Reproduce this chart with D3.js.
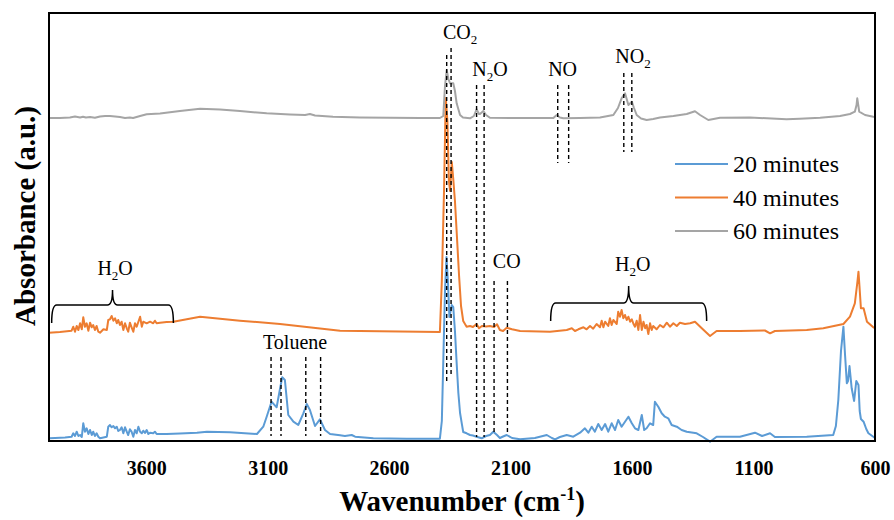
<!DOCTYPE html>
<html><head><meta charset="utf-8">
<script src="https://cdn.jsdelivr.net/npm/d3@7"></script>
<style>body{margin:0;background:#fff}svg{display:block}text{font-family:"Liberation Serif","Times New Roman",serif}</style>
</head><body><svg id="c" width="894" height="520"></svg>
<script>
// ---- data: [wavenumber (cm-1), absorbance (a.u., offset stacked)] ----
const series20 = [[4000,2.7],[3975,3],[3934,3.5],[3907,4.3],[3900,7.7],[3893,5],[3886,9.3],[3879,5],[3872,6],[3865,4],[3859,17.7],[3852,9.3],[3845,12.7],[3838,7],[3831,11],[3824,6],[3818,9.3],[3811,5],[3804,7.7],[3797,4.3],[3790,2.7],[3776,3.5],[3762,4.3],[3756,14.3],[3749,16],[3742,13.7],[3735,15],[3728,12.7],[3721,14.3],[3715,10],[3708,11],[3701,13.7],[3694,7.7],[3687,13.7],[3680,9.3],[3674,6],[3667,11.7],[3660,9.3],[3653,4.3],[3646,11],[3639,7.7],[3632,14.3],[3625,9.3],[3618,7.7],[3612,10.3],[3605,8],[3598,11],[3591,7],[3584,8.3],[3571,7.7],[3564,9.3],[3557,7],[3543,7],[3516,7],[3461,7.5],[3391,8.3],[3350,9.3],[3255,8.7],[3144,7],[3118,14.3],[3104,24.3],[3084,39.3],[3063,33.7],[3050,51],[3040,63.7],[3029,61],[3015,26],[2994,19.3],[2974,16],[2953,27.7],[2939,37],[2926,31],[2905,15],[2885,21.7],[2864,11],[2843,7],[2802,5.7],[2782,5],[2754,6],[2740,4.3],[2665,2.7],[2528,2.3],[2391,2.3],[2383,20],[2376,90],[2370,150],[2364,184],[2358,160],[2352,124],[2347,130],[2342,136],[2336,134],[2329,110],[2322,78],[2315,48],[2308,28],[2301,17.7],[2295,9],[2281,7.7],[2267,6],[2255,5.5],[2240,4.3],[2219,2.7],[2201,5],[2185,6],[2171,9.3],[2156,6],[2144,3],[2131,4.5],[2116,6],[2094,3],[2061,1.7],[2000,3],[1951,6],[1930,3],[1917,1.7],[1897,4],[1869,6],[1842,4.3],[1814,8.3],[1794,12.7],[1780,8.3],[1766,14.3],[1753,9.3],[1739,17],[1725,11],[1711,17],[1698,9.3],[1684,17.7],[1670,11],[1657,21],[1643,14.3],[1629,19.3],[1615,24.3],[1601,17.7],[1588,12.7],[1574,11],[1560,26],[1550,11],[1540,12.7],[1526,17.7],[1513,16],[1506,39.3],[1492,34.3],[1478,27.7],[1465,24.3],[1451,22.7],[1437,16],[1416,14.3],[1396,11],[1375,9.3],[1334,7.7],[1308,4],[1279,-0.7],[1252,4.3],[1156,4.3],[1094,8.3],[1065,5],[1032,7.7],[1012,4],[881,4.3],[772,6],[761,15],[751,41],[740,90],[730,114.3],[723,85],[716,57.7],[711,60],[705,75],[696,52.7],[686,40],[677,60],[668,56],[663,30],[658,22],[647,19.3],[636,12],[627,7.7],[607,4.3],[600,3]];

const series40 = [[4000,108.3],[3955,109],[3907,110.3],[3900,114.3],[3893,109.3],[3886,115],[3879,111],[3872,117.7],[3865,111.7],[3859,123.7],[3852,114.3],[3845,117.7],[3838,110.3],[3831,118.3],[3824,113.7],[3818,116],[3811,111],[3804,115],[3797,109.3],[3790,108.3],[3776,111.7],[3762,111],[3756,121],[3749,121.7],[3742,125],[3735,120.3],[3728,122.7],[3721,117.7],[3715,121],[3708,116],[3701,119.3],[3694,111],[3687,117.7],[3680,112.7],[3674,109.3],[3667,118.3],[3660,113.7],[3653,109.3],[3646,117.7],[3639,114.3],[3632,119.3],[3625,124.3],[3618,114.3],[3612,119.3],[3598,117.7],[3584,119.3],[3571,117.7],[3564,120.3],[3557,117.7],[3543,118.3],[3516,119],[3488,119.3],[3378,124.3],[3214,120.3],[3049,117],[2802,110.3],[2391,109],[2383,160],[2374,250],[2367,343],[2360,320],[2354,260],[2349,250],[2342,279],[2336,262],[2329,240],[2321,205],[2312,165],[2304,135],[2295,120],[2281,114.3],[2267,115],[2255,114],[2240,117],[2230,112.7],[2218,115],[2201,114.5],[2185,115],[2168,114],[2156,116.7],[2144,111],[2131,110],[2116,113.3],[2094,111.7],[2061,110],[1938,109.3],[1869,111],[1848,112.7],[1835,110],[1821,111.7],[1800,113.7],[1787,111.7],[1773,115],[1760,112.3],[1746,117],[1732,113.7],[1725,120.3],[1718,113.7],[1711,119.3],[1698,115],[1691,122.7],[1684,116],[1677,121],[1663,117],[1657,129.3],[1650,124.3],[1643,131],[1636,122.7],[1629,126],[1622,121],[1615,124.3],[1608,119.3],[1601,121.7],[1594,117],[1588,114.3],[1581,120.3],[1574,111],[1567,126],[1560,111],[1553,119.3],[1546,112.7],[1540,116],[1533,107],[1526,117.7],[1519,111],[1513,115],[1499,111.7],[1485,116],[1471,113.7],[1457,118.3],[1444,114.3],[1430,117.7],[1416,115],[1403,118.3],[1382,117],[1361,117.7],[1341,119.3],[1313,112.7],[1279,105],[1252,110],[1156,110],[1053,110.5],[1032,107.7],[1012,110],[881,111],[813,112.7],[730,117],[703,124.3],[683,137.7],[672,160],[668,169.3],[664,155],[658,132.7],[647,132.7],[633,119.3],[607,113.7],[600,113]];

const series60 = [[4000,323],[3955,323],[3914,323.5],[3893,324.5],[3872,323.5],[3860,324.3],[3848,323.5],[3831,324],[3811,323.2],[3790,324.5],[3769,325],[3749,325],[3728,324.5],[3708,324],[3687,323],[3667,323.5],[3654,323],[3625,325],[3598,326.7],[3543,327.5],[3461,330],[3378,332.3],[3296,331.5],[3214,330],[3104,327.7],[3008,326.5],[2946,326],[2926,327],[2905,325.5],[2831,324.3],[2720,323.5],[2473,323],[2391,323],[2377,325],[2370,355],[2363,371],[2356,362],[2349,357.7],[2336,357.7],[2329,350],[2322,337.7],[2308,326],[2296,323.5],[2267,322.7],[2251,325],[2240,331.7],[2230,327],[2226,327],[2212,330],[2201,326],[2185,323.3],[2061,323],[1924,323],[1910,326],[1897,323.5],[1883,322.7],[1814,323],[1732,323.5],[1677,326],[1658,333],[1643,342.7],[1629,347.7],[1615,336],[1601,339.3],[1592,333],[1581,326],[1563,322.5],[1540,321],[1513,322],[1485,323.5],[1430,325],[1375,327],[1341,329.7],[1320,326],[1286,321],[1238,323.3],[1115,323.5],[964,321.7],[910,322.3],[826,323.3],[744,325],[703,327],[683,329.3],[676,336],[673,342.7],[669,336],[665,329.3],[641,326],[607,324.3],[600,324]];

const seriesNames = ["20 minutes","40 minutes","60 minutes"];
const xTicks = [3600,3100,2600,2100,1600,1100,600];
// marker lines: [wavenumber, top, bottom] in data units
const markers = [[2363,386,58],[2345,393,64],[2240,356,4],[2209,356,4],[1906,356,278],[1861,356,278],[1634,368,289],[1601,368,289],[2168,160,6],[2113,160,6],[3086,84,5],[3045,84,5],[2943,84,5],[2882,84,5]];
// labels: [main, sub, tail, wavenumber, baseline]
const labels = [["CO","2","",2308,402],["N","2","O",2185,365],["NO","","",1886,365],["NO","2","",1596,378],["CO","","",2116,173],["Toluene","","",2987,92],["H","2","O",3728,166],["H","2","O",1597,170]];
// braces: [from, to, top, ends, tip]
const braces = [[3989,3488,136,118,151],[1935,1293,138,120,155]];

const colors = ["#5B9BD5","#ED7D31","#A5A5A5"];
const W=894,H=520, L=49,R=875,T=13,B=441;
const svg=d3.select("#c");
const x=d3.scaleLinear().domain([4000,600]).range([L,R]);
const y=d3.scaleLinear().domain([0,428]).range([B,T]);
const line=d3.line().x(d=>x(d[0])).y(d=>y(d[1]));

[series20,series40,series60].forEach((s,i)=>{
  svg.append("path").datum(s).attr("d",line).attr("fill","none")
    .attr("stroke",colors[i]).attr("stroke-width",2).attr("stroke-linejoin","round");
});

// markers
svg.selectAll(".mk").data(markers).enter().append("line")
  .attr("x1",d=>x(d[0])).attr("x2",d=>x(d[0])).attr("y1",d=>y(d[1])).attr("y2",d=>y(d[2]))
  .attr("stroke","#000").attr("stroke-width",1.4).attr("stroke-dasharray","4,3");

// labels
labels.forEach(l=>{
  const t=svg.append("text").attr("x",x(l[3])).attr("y",y(l[4])).attr("text-anchor","middle")
    .attr("font-size",20).attr("fill","#000");
  t.append("tspan").text(l[0]);
  if(l[1]) t.append("tspan").attr("font-size",13).attr("dy",5).text(l[1]);
  if(l[2]) t.append("tspan").attr("dy",-5).text(l[2]);
});

// braces
braces.forEach(b=>{
  const x1=x(b[0]),x2=x(b[1]),yt=y(b[2]),ye=y(b[3]),yp=y(b[4]),xc=(x1+x2)/2,r=5;
  const p=`M${x1},${ye} Q${x1},${yt} ${x1+r},${yt} L${xc-r},${yt} Q${xc},${yt} ${xc},${yp} Q${xc},${yt} ${xc+r},${yt} L${x2-r},${yt} Q${x2},${yt} ${x2},${ye}`;
  svg.append("path").attr("d",p).attr("fill","none").attr("stroke","#000").attr("stroke-width",1.5);
});

// frame
svg.append("rect").attr("x",L).attr("y",T).attr("width",R-L).attr("height",B-T)
  .attr("fill","none").attr("stroke","#000").attr("stroke-width",2);

// x axis
const ax=svg.append("g").attr("transform",`translate(0,${B})`)
  .call(d3.axisBottom(x).tickValues(xTicks).tickSize(0).tickPadding(0).tickFormat(d3.format("d")));
ax.select(".domain").remove();
ax.selectAll("text").attr("font-size",20).attr("font-weight","bold").attr("fill","#000")
  .attr("font-family","Liberation Serif").attr("dy",null).attr("y",34);

// titles
const xt=svg.append("text").attr("x",462).attr("y",511).attr("text-anchor","middle")
  .attr("font-size",29).attr("font-weight","bold");
xt.append("tspan").text("Wavenumber (cm");
xt.append("tspan").attr("font-size",18).attr("dy",-11).text("-1");
xt.append("tspan").attr("dy",11).text(")");

svg.append("text").attr("transform",`translate(35,216) rotate(-90)`).attr("text-anchor","middle")
  .attr("font-size",29).attr("font-weight","bold").text("Absorbance (a.u.)");

// legend
const lg=svg.append("g");
seriesNames.forEach((n,i)=>{
  const yy=164+i*33.5;
  lg.append("line").attr("x1",675).attr("x2",728).attr("y1",yy).attr("y2",yy).attr("stroke",colors[i]).attr("stroke-width",2);
  lg.append("text").attr("x",733).attr("y",yy+8).attr("font-size",24).text(n);
});
</script></body></html>
